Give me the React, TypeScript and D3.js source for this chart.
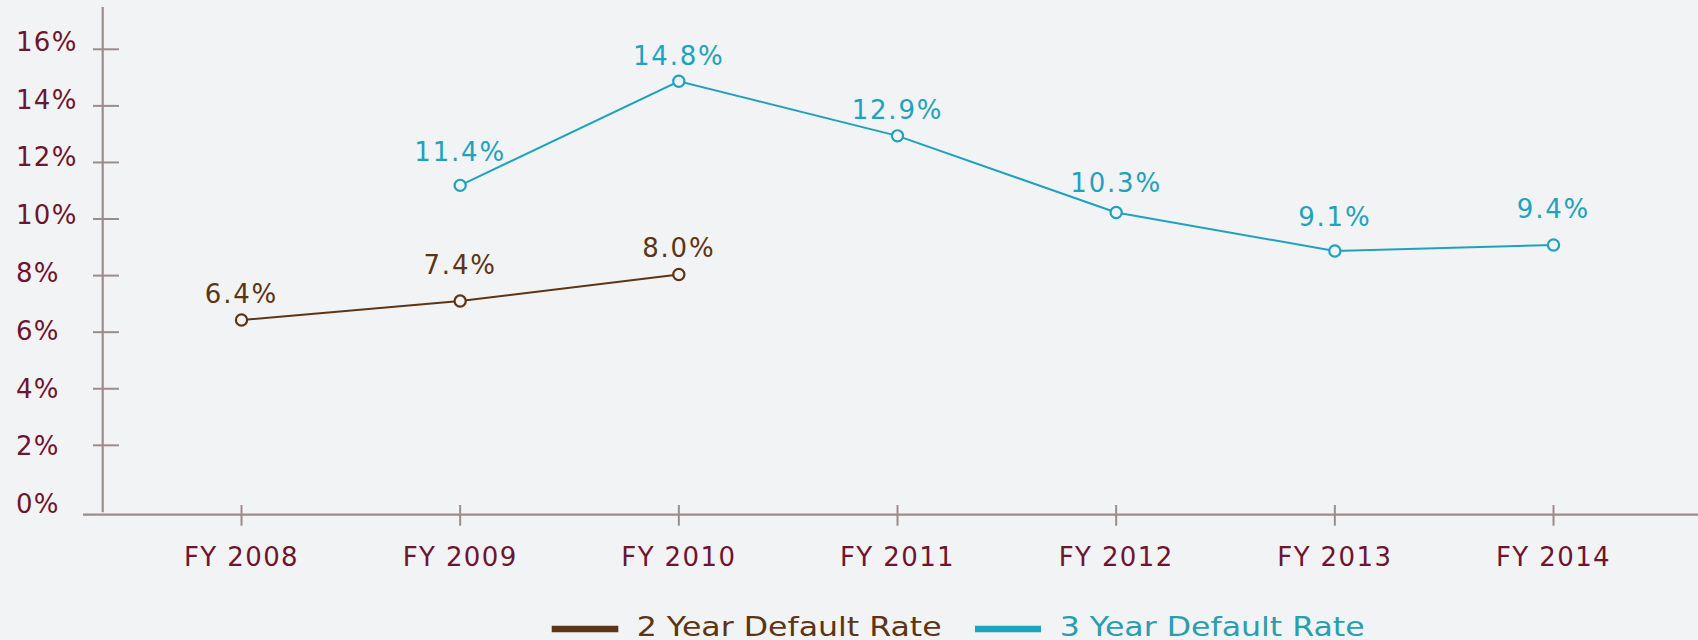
import React from "react";
import * as d3 from "d3";

const categories = ["FY 2008", "FY 2009", "FY 2010", "FY 2011", "FY 2012", "FY 2013", "FY 2014"];
// plotted point positions (as drawn in the reference)
const twoYearValues: (number | null)[] = [6.43, 7.1, 8.04, null, null, null, null];
const threeYearValues: (number | null)[] = [null, 11.19, 14.87, 12.94, 10.23, 8.87, 9.08];
// printed data labels
const twoYearLabels: (number | null)[] = [6.4, 7.4, 8.0, null, null, null, null];
const threeYearLabels: (number | null)[] = [null, 11.4, 14.8, 12.9, 10.3, 9.1, 9.4];
const yTicks = [0, 2, 4, 6, 8, 10, 12, 14, 16];
const seriesNames = ["2 Year Default Rate", "3 Year Default Rate"];

const W = 1698;
const H = 640;
const BG = "#f2f3f5";
const AXIS = "#9c8b8b";
const LABEL = "#6e1530";
const BROWN = "#5b3515";
const TEAL = "#1fa2bd";
const TEAL_TEXT = "#2a9eae";
const FONT = "'DejaVu Sans', Verdana, sans-serif";

export default function App() {
  React.useEffect(() => {
    document.body.style.margin = "0";
    document.body.style.background = BG;
  }, []);

  const x = d3.scalePoint<string>().domain(categories).range([241.5, 1553.5]);
  const y = d3.scaleLinear().domain([0, 16]).range([501.9, 49.3]);
  const yLab = d3.scaleLinear().domain([0, 16]).range([513.3, 50.7]);

  const line = d3
    .line<number | null>()
    .defined((d) => d !== null)
    .x((_, i) => x(categories[i]) as number)
    .y((d) => y(d as number));

  const series = [
    { vals: twoYearValues, labs: twoYearLabels, color: BROWN, text: BROWN },
    { vals: threeYearValues, labs: threeYearLabels, color: TEAL, text: TEAL },
  ];

  const legend = [
    { name: seriesNames[0], color: BROWN, text: BROWN, x1: 551.7, x2: 618.3, tx: 636.7 },
    { name: seriesNames[1], color: TEAL, text: TEAL_TEXT, x1: 975, x2: 1041, tx: 1059.7 },
  ];

  return (
    <svg width={W} height={H} style={{ position: "absolute", left: 0, top: 0, background: BG }}>
      <rect x={0} y={0} width={W} height={H} fill={BG} />
      {/* y axis */}
      <line x1={102.7} x2={102.7} y1={7} y2={512.3} stroke={AXIS} strokeWidth={2.2} />
      {yTicks.map((t) => (
        <g key={t}>
          {t > 0 && <line x1={93} x2={119} y1={y(t)} y2={y(t)} stroke={AXIS} strokeWidth={2} />}
          <text x={16} y={yLab(t)} fill={LABEL} fontFamily={FONT} fontSize={26} letterSpacing={1.3}>
            {t}%
          </text>
        </g>
      ))}
      {/* x axis */}
      <line x1={83} x2={W} y1={514.7} y2={514.7} stroke={AXIS} strokeWidth={2.2} />
      {categories.map((c) => (
        <g key={c}>
          <line x1={x(c)} x2={x(c)} y1={505} y2={525.7} stroke={AXIS} strokeWidth={2} />
          <text
            x={x(c) as number}
            y={566}
            textAnchor="middle"
            fill={LABEL}
            fontFamily={FONT}
            fontSize={26}
            letterSpacing={1.4}
          >
            {c}
          </text>
        </g>
      ))}
      {/* series */}
      {series.map((s, si) => (
        <g key={si}>
          <path d={line(s.vals) || ""} fill="none" stroke={s.color} strokeWidth={2} />
          {s.vals.map((v, i) =>
            v === null ? null : (
              <circle key={i} cx={x(categories[i])} cy={y(v)} r={5.6} fill={BG} stroke={s.color} strokeWidth={2.2} />
            )
          )}
          {s.labs.map((l, i) =>
            l === null ? null : (
              <text
                key={"l" + i}
                x={x(categories[i])}
                y={y(l) - 18.3}
                textAnchor="middle"
                fill={s.text}
                fontFamily={FONT}
                fontSize={26}
                letterSpacing={1.8}
              >
                {l.toFixed(1)}%
              </text>
            )
          )}
        </g>
      ))}
      {/* legend */}
      {legend.map((L) => (
        <g key={L.name}>
          <line x1={L.x1} x2={L.x2} y1={629} y2={629} stroke={L.color} strokeWidth={6.5} />
          <text
            x={L.tx}
            y={636}
            fill={L.text}
            fontFamily={FONT}
            fontSize={26.5}
            textLength={305}
            lengthAdjust="spacingAndGlyphs"
          >
            {L.name}
          </text>
        </g>
      ))}
    </svg>
  );
}
